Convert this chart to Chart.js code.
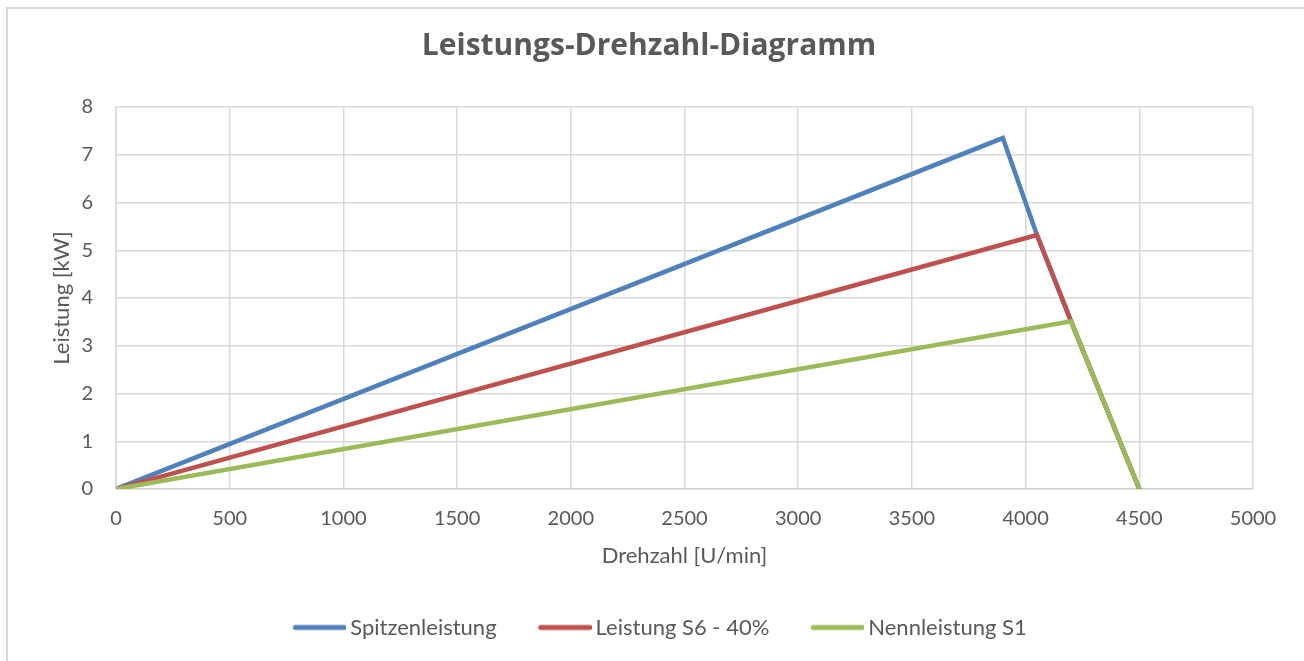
<!DOCTYPE html>
<html>
<head>
<meta charset="utf-8">
<script src="https://cdn.jsdelivr.net/npm/chart.js@4/dist/chart.umd.min.js"></script>
<style>
  html, body { margin: 0; padding: 0; background: #ffffff; }
  #wrap { width: 1304px; height: 661px; position: relative; }
</style>
</head>
<body>
<div id="wrap"><canvas id="c" width="1304" height="661"></canvas></div>
<script>
// ---- data ----
const seriesNames = ["Spitzenleistung", "Leistung S6 - 40%", "Nennleistung S1"];
const spitzenRpm = [0, 3900, 4050, 4200, 4500];
const spitzenKw  = [0, 7.35, 5.32, 3.51, 0];
const s6Rpm = [0, 4050, 4200, 4500];
const s6Kw  = [0, 5.32, 3.51, 0];
const s1Rpm = [0, 4200, 4500];
const s1Kw  = [0, 3.51, 0];
const xTicks = [0, 500, 1000, 1500, 2000, 2500, 3000, 3500, 4000, 4500, 5000];
const yTicks = [0, 1, 2, 3, 4, 5, 6, 7, 8];

const colors = ["#4f81bd", "#c0504d", "#9bbb59"];
const textColor = "#595959";
const FONT = "Lato, 'Open Sans', 'DejaVu Sans', sans-serif";
const TITLE_FONT = "'Open Sans', Lato, 'DejaVu Sans', sans-serif";

function pts(xs, ys) { return xs.map((x, i) => ({x: x, y: ys[i]})); }

function legendLine(color) {
  const c = document.createElement('canvas');
  c.width = 82; c.height = 8;
  const g = c.getContext('2d');
  g.strokeStyle = color; g.lineWidth = 5; g.lineCap = 'round';
  g.beginPath(); g.moveTo(31, 4); g.lineTo(80, 4); g.stroke();
  return c;
}

const frame = {
  id: 'frame',
  beforeDraw(chart) {
    const ctx = chart.ctx;
    ctx.save();
    ctx.fillStyle = '#ffffff';
    ctx.fillRect(0, 0, chart.width, chart.height);
    ctx.strokeStyle = '#d9d9d9';
    ctx.lineWidth = 2;
    ctx.strokeRect(7, 8, 1400, 800);
    ctx.restore();
  }
};

const datasets = [
  {label: seriesNames[0], data: pts(spitzenRpm, spitzenKw), borderColor: colors[0], backgroundColor: colors[0]},
  {label: seriesNames[1], data: pts(s6Rpm, s6Kw), borderColor: colors[1], backgroundColor: colors[1]},
  {label: seriesNames[2], data: pts(s1Rpm, s1Kw), borderColor: colors[2], backgroundColor: colors[2]}
].map((d, i) => Object.assign(d, {
  borderWidth: 4.5, pointRadius: 0, pointHoverRadius: 0, fill: false, tension: 0,
  borderCapStyle: 'round', borderJoinStyle: 'miter', pointStyle: legendLine(colors[i]),
  order: 3 - i
}));

new Chart(document.getElementById('c'), {
  type: 'line',
  data: { datasets: datasets },
  options: {
    responsive: false,
    devicePixelRatio: 1,
    animation: false,
    layout: { padding: { left: 45, right: 51, top: 0, bottom: 12.5 } },
    plugins: {
      title: {
        display: true, text: 'Leistungs-Drehzahl-Diagramm', color: textColor,
        font: { family: TITLE_FONT, size: 30, weight: 'bold' },
        padding: { top: 28, bottom: 43 }
      },
      legend: {
        position: 'bottom',
        labels: {
          color: textColor, font: { family: FONT, size: 22 },
          usePointStyle: true, pointStyleWidth: 68, padding: 20,
          sort: (a, b) => a.datasetIndex - b.datasetIndex
        }
      },
      tooltip: { enabled: false }
    },
    scales: {
      x: {
        type: 'linear', min: 0, max: 5000,
        afterBuildTicks: s => { s.ticks = xTicks.map(v => ({value: v})); },
        afterFit: s => { s.height = 107.5; },
        grid: { color: '#d9d9d9', lineWidth: 1.5, drawTicks: false },
        border: { color: '#d0d0d0', width: 1.5 },
        ticks: { color: textColor, font: { family: FONT, size: 20 }, padding: 18, maxRotation: 0,
                 callback: v => String(v) },
        title: { display: true, text: 'Drehzahl [U/min]', color: textColor,
                 font: { family: FONT, size: 22 }, padding: { top: 0, bottom: 27.5 } }
      },
      y: {
        type: 'linear', min: 0, max: 8,
        afterBuildTicks: s => { s.ticks = yTicks.map(v => ({value: v})); },
        afterFit: s => { s.width = 71; },
        grid: { color: '#d9d9d9', lineWidth: 1.5, drawTicks: false },
        border: { color: '#d9d9d9', width: 1.5 },
        ticks: { color: textColor, font: { family: FONT, size: 20 }, padding: 23,
                 callback: v => String(v) },
        title: { display: true, text: 'Leistung [kW]', color: textColor,
                 font: { family: FONT, size: 22 }, padding: { top: 4, bottom: 0 } }
      }
    }
  },
  plugins: [frame]
});
</script>
</body>
</html>
